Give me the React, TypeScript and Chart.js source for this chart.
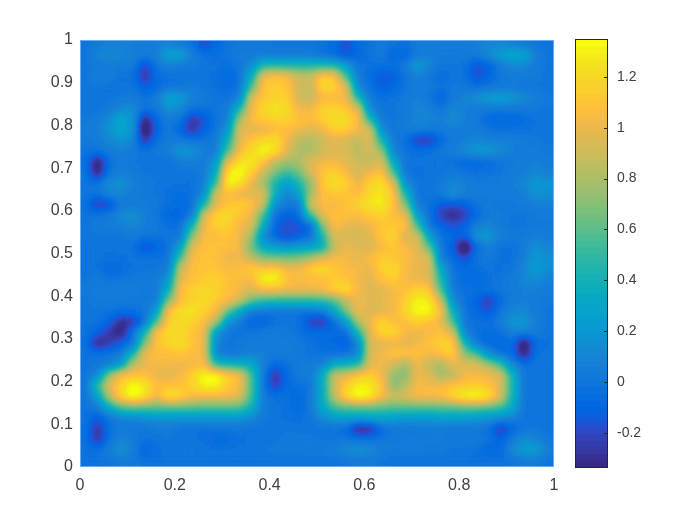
import React, { useEffect, useRef } from "react";
import { Chart, registerables } from "chart.js";

Chart.register(...registerables);

// Heat-map cell values, in hundredths, top row first (40 x 40 cells on the unit square).
const zRows: number[][] = [
  [3,6,8,8,8,6,8,8,6,2,-10,-2,4,5,5,5,4,4,4,4,3,0,-8,0,3,6,4,2,6,6,6,6,6,8,10,10,8,6,4,3],
  [4,10,12,10,8,6,8,22,20,8,2,1,4,6,6,6,6,6,6,6,2,-2,-8,-2,4,6,-4,-2,6,8,6,6,6,6,12,18,26,22,8,4],
  [4,5,6,6,6,-12,4,8,6,5,4,3,2,4,12,45,50,48,45,45,48,45,18,4,2,2,2,6,18,10,4,4,3,-8,-6,6,10,10,6,4],
  [4,8,8,2,2,-18,0,2,2,3,3,2,-3,3,28,105,112,108,95,95,118,112,60,6,0,-8,-6,4,8,4,0,3,3,-10,-2,4,6,6,5,4],
  [4,4,2,3,4,-6,0,3,4,6,4,2,0,3,62,112,118,112,95,92,122,120,100,10,2,-6,-2,4,8,6,3,5,4,2,4,5,6,4,4,4],
  [4,3,3,5,6,2,6,22,18,8,6,4,2,8,100,112,118,118,95,92,105,105,105,42,5,2,3,5,8,4,-4,5,10,14,18,20,16,12,8,5],
  [4,3,5,10,12,4,5,14,10,4,3,4,6,40,105,122,128,122,105,105,118,120,112,100,10,3,4,6,10,8,4,10,8,6,5,5,5,5,5,4],
  [5,6,12,25,15,-22,0,6,4,-16,-8,3,8,85,110,115,118,118,112,108,118,125,122,110,42,5,4,6,10,10,8,12,8,5,-2,-3,-2,0,3,4],
  [6,8,14,25,14,-32,-4,6,-4,-18,-4,4,14,102,100,100,108,110,105,100,102,118,118,105,100,12,4,6,8,5,5,7,6,6,4,2,2,2,3,4],
  [5,6,10,14,10,-16,2,6,6,4,4,6,35,100,112,122,125,105,90,88,95,100,95,92,100,42,5,2,-14,-16,0,5,8,10,8,8,8,6,5,4],
  [4,4,6,8,6,3,5,8,16,14,8,6,62,108,122,135,125,100,88,88,95,100,98,90,98,85,8,3,2,3,5,8,12,16,16,12,8,6,6,5],
  [2,-26,2,6,4,3,2,2,6,8,6,14,102,125,130,112,92,85,88,100,105,105,100,95,92,100,25,3,3,3,2,1,-2,-2,0,3,5,6,8,6],
  [4,-24,3,8,6,4,4,4,4,4,6,28,128,138,118,95,78,55,75,98,112,118,108,95,105,112,60,4,2,3,4,6,4,2,3,4,6,8,10,8],
  [4,3,12,14,8,6,4,3,3,2,8,50,135,125,102,85,40,18,42,82,115,125,118,102,118,125,100,12,3,3,6,10,8,6,6,6,8,10,16,14],
  [4,4,10,10,6,5,4,2,0,2,10,100,108,100,100,100,35,8,20,85,110,112,112,108,122,128,112,40,4,3,6,14,8,6,6,6,6,8,14,12],
  [3,-16,-10,5,6,6,5,1,-1,2,40,100,112,118,112,95,12,5,5,98,108,105,112,118,128,130,112,80,6,2,-6,-8,-5,4,6,5,5,6,8,8],
  [3,4,6,12,14,8,4,-3,-4,5,98,120,122,112,105,62,2,-5,0,58,102,112,110,108,115,118,108,105,18,2,-14,-20,-14,-2,6,6,4,4,6,6],
  [4,6,6,8,10,8,5,2,2,40,105,118,118,105,100,30,-4,-10,-8,-2,80,108,102,100,104,112,115,112,60,4,-3,-8,-2,8,10,6,4,4,5,5],
  [4,4,4,4,5,3,3,4,4,82,108,108,112,105,85,10,-3,-12,-6,2,42,100,95,95,100,115,120,95,100,20,2,-1,-5,14,16,8,5,6,8,6],
  [3,3,3,4,3,-10,-4,2,20,102,110,112,110,105,72,25,18,15,18,20,28,92,105,100,98,105,115,108,100,70,5,-6,-34,0,8,2,2,6,14,10],
  [3,3,2,2,3,3,3,4,60,108,112,110,102,105,92,78,75,75,78,88,98,108,105,102,108,118,112,108,102,100,6,0,-10,4,6,2,2,8,16,12],
  [3,3,-2,0,3,4,4,6,95,110,112,112,108,108,118,112,118,105,105,118,125,112,108,105,102,118,122,108,102,100,25,3,-1,2,3,2,4,10,18,12],
  [4,5,4,4,5,5,6,15,100,110,115,118,112,108,105,135,135,112,105,108,108,115,112,105,100,110,118,105,102,100,42,4,0,-3,2,4,6,10,12,8],
  [5,6,6,8,6,5,6,32,112,118,122,118,110,105,100,105,108,105,105,105,108,120,125,105,100,100,105,110,120,115,62,5,2,2,3,4,6,8,8,6],
  [4,6,6,6,5,5,6,80,108,118,122,115,110,95,70,52,48,48,48,48,50,65,92,105,100,102,105,118,132,128,95,12,2,-4,-16,0,6,8,6,5],
  [4,4,3,2,2,4,18,112,125,128,118,108,72,22,6,4,3,3,3,4,6,22,80,105,98,100,105,120,135,135,110,32,4,-2,-8,4,10,10,6,4],
  [4,3,-3,-20,-16,3,65,118,122,118,108,90,15,5,-4,-3,3,4,2,-14,-16,0,18,88,105,122,108,110,118,110,102,62,4,2,2,6,16,16,8,4],
  [3,-4,-15,-24,4,40,112,122,122,112,105,15,4,3,4,6,6,5,3,0,0,-1,0,42,100,120,122,105,102,105,112,98,8,2,0,2,8,8,6,4],
  [3,-22,-14,-4,3,80,112,118,125,112,105,10,3,5,6,6,6,6,5,3,0,-2,-6,8,98,100,102,100,105,112,118,118,42,3,-2,-3,0,-28,0,3],
  [3,3,4,6,40,105,110,110,112,108,105,10,4,6,8,8,6,6,5,3,2,2,2,10,98,105,112,112,110,105,112,118,82,62,12,2,0,-24,2,4],
  [3,4,6,18,92,102,105,105,102,105,108,50,38,35,28,8,-2,2,6,6,8,30,35,45,100,105,95,85,105,92,85,102,100,100,88,60,10,3,4,4],
  [4,10,85,110,112,110,102,100,105,118,135,138,118,108,60,5,-18,0,6,6,30,95,100,115,118,105,82,80,105,100,85,90,105,105,105,100,40,4,3,3],
  [3,55,100,118,138,128,108,112,110,118,132,132,115,108,62,4,-14,0,2,4,30,95,118,132,130,112,80,90,108,105,108,112,115,118,110,100,45,4,3,3],
  [3,18,90,122,140,125,105,128,122,108,105,105,105,100,58,5,2,2,-3,5,30,92,122,138,132,108,95,100,108,108,110,122,135,138,128,100,38,4,3,3],
  [3,5,28,65,72,70,68,68,68,68,66,66,66,65,38,6,3,2,-2,5,25,62,68,70,70,68,66,66,66,66,68,68,72,72,66,58,28,4,3,3],
  [3,-6,3,8,10,12,14,14,14,14,14,14,14,14,10,5,3,2,2,4,12,16,18,18,20,20,18,16,16,16,18,18,18,16,14,12,8,3,3,3],
  [3,-18,2,6,4,4,6,6,4,2,2,3,4,4,3,3,3,4,3,3,3,2,0,-22,-20,0,4,4,5,5,5,4,4,4,2,-16,-2,4,4,3],
  [3,-18,3,10,6,3,3,4,4,3,2,0,0,2,3,4,4,5,5,5,4,4,4,3,3,4,5,6,6,6,6,6,6,6,4,-4,6,12,10,5],
  [3,2,8,14,8,-6,2,4,4,5,4,3,3,3,3,4,5,5,5,6,6,8,12,14,12,8,6,6,6,5,5,4,4,2,-2,-2,12,18,18,8],
  [3,3,4,6,5,3,3,3,3,3,3,3,3,3,3,3,3,3,3,3,3,3,4,6,6,4,3,3,3,3,3,3,3,3,3,3,4,6,6,4],
];

const axisXTicks = [0, 0.2, 0.4, 0.6, 0.8, 1];
const axisYTicks = [0, 0.1, 0.2, 0.3, 0.4, 0.5, 0.6, 0.7, 0.8, 0.9, 1];
const colorbarTicks = [-0.2, 0, 0.2, 0.4, 0.6, 0.8, 1, 1.2];
const colorMin = -0.334;
const colorMax = 1.345;

const parula: number[][] = [
  [0.2081,0.1663,0.5292],[0.2116,0.1898,0.5777],[0.2123,0.2138,0.627],[0.2081,0.2386,0.6771],
  [0.1959,0.2645,0.7279],[0.1707,0.2919,0.7792],[0.1253,0.3242,0.8303],[0.0591,0.3598,0.8683],
  [0.0117,0.3875,0.882],[0.006,0.4086,0.8828],[0.0165,0.4266,0.8786],[0.0329,0.443,0.872],
  [0.0498,0.4586,0.8641],[0.0629,0.4737,0.8554],[0.0723,0.4887,0.8467],[0.0779,0.504,0.8384],
  [0.0793,0.52,0.8312],[0.0749,0.5375,0.8263],[0.0641,0.557,0.824],[0.0488,0.5772,0.8228],
  [0.0343,0.5966,0.8199],[0.0265,0.6137,0.8135],[0.0239,0.6287,0.8038],[0.0231,0.6418,0.7913],
  [0.0228,0.6535,0.7768],[0.0267,0.6642,0.7607],[0.0384,0.6743,0.7436],[0.059,0.6838,0.7254],
  [0.0843,0.6928,0.7062],[0.1133,0.7015,0.6859],[0.1453,0.7098,0.6646],[0.1801,0.7177,0.6424],
  [0.2178,0.725,0.6193],[0.2586,0.7317,0.5954],[0.3022,0.7376,0.5712],[0.3482,0.7424,0.5473],
  [0.3953,0.7459,0.5244],[0.442,0.7481,0.5033],[0.4871,0.7491,0.484],[0.53,0.7491,0.4661],
  [0.5709,0.7485,0.4494],[0.6099,0.7473,0.4337],[0.6473,0.7456,0.4188],[0.6834,0.7435,0.4044],
  [0.7184,0.7411,0.3905],[0.7525,0.7384,0.3768],[0.7858,0.7356,0.3633],[0.8185,0.7327,0.3498],
  [0.8507,0.7299,0.336],[0.8824,0.7274,0.3217],[0.9139,0.7258,0.3063],[0.945,0.7261,0.2886],
  [0.9739,0.7314,0.2666],[0.9938,0.7455,0.2403],[0.999,0.7653,0.2164],[0.9955,0.7861,0.1967],
  [0.988,0.8066,0.1794],[0.9789,0.8271,0.1633],[0.9697,0.8481,0.1475],[0.9626,0.8705,0.1309],
  [0.9589,0.8949,0.1132],[0.9598,0.9218,0.0948],[0.9661,0.9514,0.0755],[0.9763,0.9831,0.0538],
];

const TEXT = "#404040";
const FAMILY = "'Liberation Sans', Arial, sans-serif";
const AXIS_FONT = { family: FAMILY, size: 16 };
const BAR_FONT = { family: FAMILY, size: 14 };

// Cells are drawn as grey codes of their value so the smoothing happens in value space.
const CODE_MIN = -1;
const CODE_MAX = 2;
const BLUR_PX = 5;

// The blur below flattens peaks; this steepens them beforehand so they come back near the read height.
const precompensate = (z: number) => {
  if (z >= 100) return 97 + (z - 100) * 1.1;
  if (z >= 80) return 97 + (z - 100) * 1.4;
  if (z <= 4) return (z - 4) * 1.35;
  if (z <= 20) return (z - 4) * 1.8;
  return 28.8 + ((z - 20) * (69 - 28.8)) / 60;
};

const grayOf = (z: number) => {
  const v = precompensate(z) / 100;
  const t = Math.max(0, Math.min(1, (v - CODE_MIN) / (CODE_MAX - CODE_MIN)));
  const g = Math.round(t * 255);
  return `rgb(${g},${g},${g})`;
};
const rgbOf = (c: number[]) => `rgb(${c.map((k) => Math.round(k * 255)).join(",")})`;
const fmt = (v: number) => String(Number(v.toFixed(1)));

const cells = zRows.flatMap((row, j) =>
  row.map((z, i) => ({ x: (i + 0.5) / row.length, y: 1 - (j + 0.5) / zRows.length, z })),
);

// Smooths the sharp cells and then maps the decoded values to the colormap.
const shadePlugin = {
  id: "shade",
  afterDatasetDraw(chart: any) {
    const { ctx, chartArea: a } = chart;
    const w = Math.round(a.right - a.left);
    const h = Math.round(a.bottom - a.top);
    const off = document.createElement("canvas");
    off.width = w;
    off.height = h;
    off.getContext("2d")!.drawImage(ctx.canvas, a.left, a.top, w, h, 0, 0, w, h);
    ctx.save();
    ctx.beginPath();
    ctx.rect(a.left, a.top, w, h);
    ctx.clip();
    ctx.filter = `blur(${BLUR_PX}px)`;
    ctx.drawImage(off, a.left, a.top);
    ctx.restore();
    const img = ctx.getImageData(a.left, a.top, w, h);
    const d = img.data;
    for (let p = 0; p < d.length; p += 4) {
      const v = CODE_MIN + (d[p] / 255) * (CODE_MAX - CODE_MIN);
      const t = (v - colorMin) / (colorMax - colorMin);
      const c = parula[Math.max(0, Math.min(63, Math.floor(t * 64)))];
      d[p] = c[0] * 255;
      d[p + 1] = c[1] * 255;
      d[p + 2] = c[2] * 255;
      d[p + 3] = 255;
    }
    ctx.putImageData(img, a.left, a.top);
    ctx.save();
    ctx.strokeStyle = "rgba(130,185,240,0.8)";
    ctx.lineWidth = 1;
    ctx.strokeRect(a.left + 0.5, a.top + 0.5, w - 1, h - 1);
    ctx.restore();
  },
};

const colorbarPlugin = {
  id: "colorbarFrame",
  afterDraw(chart: any) {
    const { ctx, chartArea: a, scales } = chart;
    ctx.save();
    ctx.strokeStyle = "#262626";
    ctx.lineWidth = 1;
    ctx.strokeRect(a.left - 0.5, a.top - 0.5, a.right - a.left + 1, a.bottom - a.top + 1);
    ctx.beginPath();
    for (const t of colorbarTicks) {
      const y = Math.round(scales.y.getPixelForValue(t)) + 0.5;
      ctx.moveTo(a.right - 3, y);
      ctx.lineTo(a.right, y);
    }
    ctx.stroke();
    ctx.restore();
  },
};

const noPad = (s: any) => {
  s.paddingTop = 0;
  s.paddingBottom = 0;
  s.paddingLeft = 0;
  s.paddingRight = 0;
};

export default function App() {
  const mainRef = useRef<HTMLCanvasElement>(null);
  const barRef = useRef<HTMLCanvasElement>(null);

  useEffect(() => {
    const main = new Chart(mainRef.current!, {
      type: "scatter",
      data: {
        datasets: [
          {
            data: cells,
            pointStyle: "rect",
            pointRadius: 9,
            pointBorderWidth: 0,
            pointBackgroundColor: cells.map((c) => grayOf(c.z)),
          },
        ],
      },
      options: {
        animation: false,
        responsive: false,
        devicePixelRatio: 1,
        layout: { padding: { top: 40, right: 146, left: 0, bottom: 0 } },
        plugins: { legend: { display: false }, tooltip: { enabled: false } },
        scales: {
          x: {
            type: "linear",
            min: 0,
            max: 1,
            grid: { display: false, tickLength: 0 },
            border: { display: false },
            afterBuildTicks: (s: any) => {
              s.ticks = axisXTicks.map((value) => ({ value }));
            },
            afterFit: (s: any) => {
              s.height = 58;
              noPad(s);
            },
            ticks: { color: TEXT, font: AXIS_FONT, padding: 9, maxRotation: 0, autoSkip: false, callback: (v: any) => fmt(v) },
          },
          y: {
            type: "linear",
            min: 0,
            max: 1,
            grid: { display: false, tickLength: 0 },
            border: { display: false },
            afterBuildTicks: (s: any) => {
              s.ticks = axisYTicks.map((value) => ({ value }));
            },
            afterFit: (s: any) => {
              s.width = 80;
              noPad(s);
            },
            ticks: { color: TEXT, font: AXIS_FONT, padding: 7, autoSkip: false, callback: (v: any) => fmt(v) },
          },
        },
      },
      plugins: [shadePlugin],
    } as any);

    const bar = new Chart(barRef.current!, {
      type: "bar",
      data: {
        labels: ["c"],
        datasets: parula.map((c, i) => ({
          data: [[colorMin + ((colorMax - colorMin) * i) / parula.length, colorMax]],
          backgroundColor: rgbOf(c),
          borderWidth: 0,
          barPercentage: 1,
          categoryPercentage: 1,
          grouped: false,
          order: parula.length - i,
        })),
      },
      options: {
        animation: false,
        responsive: false,
        devicePixelRatio: 1,
        layout: { padding: { top: 40, left: 576, right: 0, bottom: 58 } },
        plugins: { legend: { display: false }, tooltip: { enabled: false } },
        scales: {
          x: { display: false },
          y: {
            type: "linear",
            position: "right",
            min: colorMin,
            max: colorMax,
            grid: { display: false, tickLength: 0 },
            border: { display: false },
            afterBuildTicks: (s: any) => {
              s.ticks = colorbarTicks.map((value) => ({ value }));
            },
            afterFit: (s: any) => {
              s.width = 93;
              noPad(s);
            },
            ticks: { color: TEXT, font: BAR_FONT, padding: 10, autoSkip: false, callback: (v: any) => fmt(v) },
          },
        },
      },
      plugins: [colorbarPlugin],
    } as any);

    return () => {
      main.destroy();
      bar.destroy();
    };
  }, []);

  const layer: React.CSSProperties = { position: "absolute", left: 0, top: 0, display: "block" };
  return (
    <div style={{ position: "absolute", left: 0, top: 0, width: 700, height: 525, background: "#fff" }}>
      <canvas ref={mainRef} width={700} height={525} style={layer} />
      <canvas ref={barRef} width={700} height={525} style={layer} />
    </div>
  );
}
